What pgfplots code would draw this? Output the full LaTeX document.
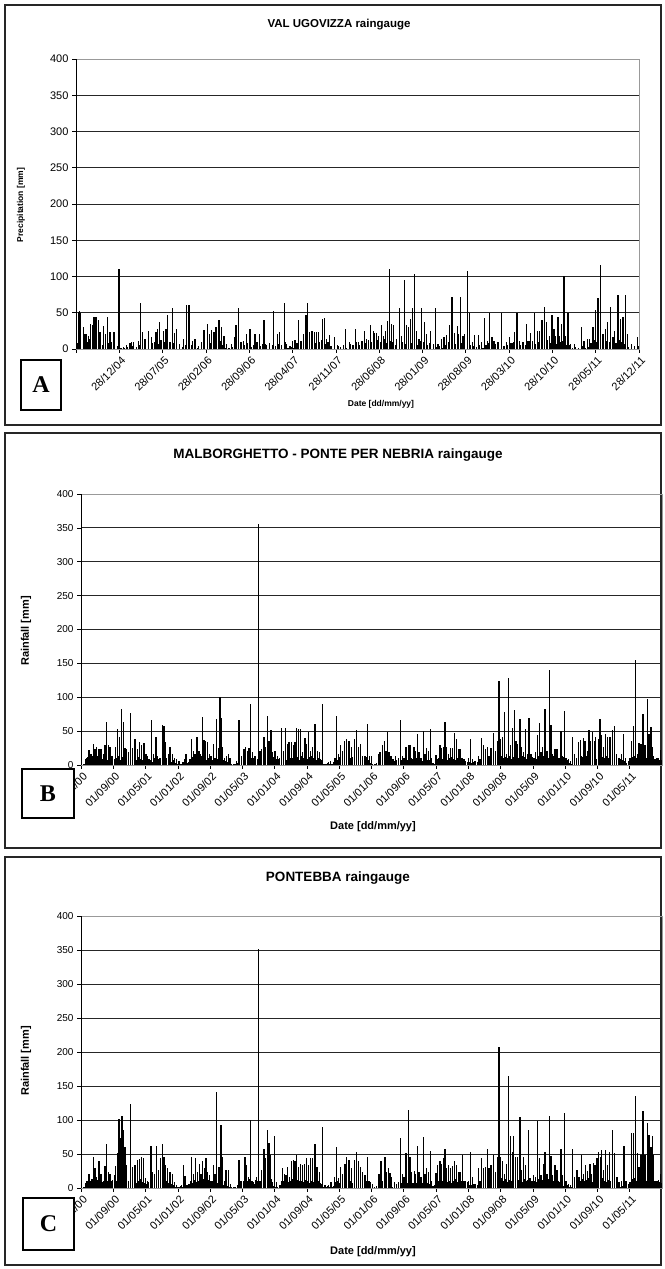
\documentclass[border=0pt]{standalone}
\usepackage{fontspec}
\setmainfont{Liberation Sans}
\newfontfamily\letterfont{Liberation Serif}
\usepackage{pgfplots}
\pgfplotsset{compat=1.18}
\usepackage{pgfplotstable}

\tikzset{rain/.style={ycomb, black, line width=1.25pt, mark=none},
         rainfill/.style={ycomb, black, line width=1.5pt, mark=none}}
\pgfplotsset{
 raincommon/.style={
  scale only axis,
  ymin=0, ymax=400, ytick={0,50,...,400},
  ymajorgrids,
  grid style={black!85, line width=0.75pt},
  axis line style={draw=black!40, line width=0.7pt},
  tick pos=left, tick align=outside, major tick length=4pt,
  tick style={black, line width=0.6pt},
  /pgf/number format/assume math mode=true,
  xticklabel style={rotate=45, anchor=east, inner sep=1pt, yshift=-7pt},
  clip=true,
 },
}

\begin{document}
\begin{tikzpicture}[x=1pt,y=1pt]
\path[use as bounding box] (0,0) rectangle (664,1269);
% panel frames
\draw[line width=1.1pt, black!85] (5,844) rectangle (661,1264);
\draw[line width=1.1pt, black!85] (5,421) rectangle (661,836);
\draw[line width=1.1pt, black!85] (5,4) rectangle (661,412);

% ---------------- Panel A ----------------
\begin{axis}[raincommon,
  at={(76pt,920pt)}, anchor=south west, width=563pt, height=290pt,
  xmin=0, xmax=91, xtick={0,7,...,91},
  xticklabels={{},28/12/04,28/07/05,28/02/06,28/09/06,28/04/07,28/11/07,28/06/08,28/01/09,28/08/09,28/03/10,28/10/10,28/05/11,28/12/11},
  yticklabel style={font=\fontsize{11}{13}\selectfont},
  xticklabel style={font=\fontsize{11}{13}\selectfont},
]
\addplot[rainfill] table[header=false, row sep=\\, x expr=\coordindex*0.5+0.25, y index=0] {8\\12\\6\\10\\14\\9\\7\\11\\5\\13\\8\\10\\6\\4\\2\\1\\3\\2\\4\\3\\6\\9\\5\\12\\8\\10\\7\\13\\9\\11\\6\\8\\4\\7\\3\\6\\2\\5\\3\\2\\9\\7\\12\\8\\10\\6\\11\\5\\2\\1\\3\\7\\4\\9\\5\\8\\3\\6\\9\\4\\7\\5\\8\\6\\4\\7\\5\\9\\2\\3\\2\\8\\11\\7\\12\\9\\13\\8\\10\\12\\7\\9\\4\\2\\5\\3\\6\\2\\7\\5\\9\\6\\11\\8\\13\\10\\7\\12\\9\\14\\8\\11\\10\\6\\12\\9\\7\\13\\8\\10\\6\\11\\9\\5\\8\\7\\3\\4\\2\\5\\9\\12\\7\\10\\8\\11\\9\\6\\4\\3\\5\\2\\6\\8\\4\\7\\9\\5\\3\\6\\8\\10\\7\\5\\9\\6\\11\\8\\7\\10\\6\\9\\12\\8\\10\\7\\9\\11\\6\\5\\2\\3\\1\\4\\2\\3\\8\\12\\9\\14\\7\\11\\10\\13\\8\\12\\9\\7\\3\\2\\4\\5\\};
\addplot[rain] coordinates {(0.0,16) (0.38,51) (0.54,52) (0.75,50) (1.18,30) (1.45,21) (1.72,20) (1.99,18) (2.37,35) (2.69,33) (2.91,44) (3.23,44) (3.61,40) (3.88,23) (4.41,32) (4.74,20) (5.12,44) (5.49,23) (6.14,23) (6.95,111) (7.65,3) (8.18,5) (8.72,8) (8.99,10) (9.26,9) (10.07,11) (10.45,64) (10.77,23) (11.15,14) (11.68,25) (12.22,16) (12.92,23) (13.14,27) (13.46,37) (14.11,25) (14.54,28) (14.81,47) (15.19,9) (15.62,57) (15.89,22) (16.26,28) (17.34,14) (17.88,60) (18.25,60) (18.79,11) (19.22,14) (19.76,4) (20.68,26) (21.22,35) (21.54,21) (21.92,26) (22.29,23) (22.62,30) (23.10,40) (23.53,30) (23.91,18) (24.34,7) (25.15,7) (25.58,16) (25.85,33) (26.22,57) (26.60,10) (27.03,11) (27.57,20) (28.11,27) (28.92,20) (29.72,21) (30.37,40) (30.69,7) (31.88,52) (32.53,20) (32.85,23) (33.76,64) (34.03,7) (34.57,4) (35.00,11) (35.38,13) (35.97,40) (36.46,11) (36.83,20) (37.16,47) (37.42,64) (37.80,23) (38.13,25) (38.50,23) (38.88,23) (39.20,24) (39.79,42) (40.12,43) (40.49,14) (40.92,19) (41.84,16) (42.38,4) (43.51,27) (44.26,10) (45.23,28) (45.72,10) (46.15,7) (46.58,25) (46.95,14) (47.33,9) (47.65,33) (48.03,25) (48.30,22) (48.57,22) (48.95,18) (49.38,33) (49.65,18) (50.02,25) (50.35,38) (50.72,111) (51.0,35) (51.37,33) (51.8,14) (52.34,57) (52.61,18) (53.15,95) (53.42,33) (53.69,30) (54.12,42) (54.39,57) (54.76,104) (55.03,25) (55.46,14) (55.84,56) (56.38,37) (56.65,21) (57.35,25) (58.16,57) (58.53,7) (59.07,14) (59.5,16) (59.93,19) (60.42,33) (60.79,72) (61.23,22) (61.66,32) (61.87,21) (62.2,72) (62.57,18) (62.84,21) (63.27,107) (63.65,49) (64.03,9) (64.46,19) (65.1,19) (65.53,9) (66.07,43) (66.5,11) (66.88,49) (67.26,16) (67.58,11) (68.23,7) (68.76,49) (69.2,4) (69.57,9) (70.11,16) (70.49,8) (70.92,23) (71.3,49) (71.73,11) (72.16,9) (72.8,35) (73.07,11) (73.5,22) (73.77,11) (74.15,49) (74.58,25) (74.96,25) (75.33,40) (75.76,58) (76.03,37) (76.57,18) (76.95,47) (77.27,28) (77.54,18) (77.92,44) (78.19,18) (78.46,35) (78.89,101) (79.16,18) (79.53,50) (79.97,7) (80.61,7) (81.69,30) (82.12,11) (82.66,14) (83.03,14) (83.57,30) (83.95,54) (84.38,70) (84.76,116) (85.19,21) (85.57,28) (85.89,37) (86.37,58) (86.8,16) (87.07,25) (87.61,75) (87.99,42) (88.42,44) (88.8,74) (89.12,21) (89.77,7) (90.3,4) (90.74,17) (91.0,4)};
\draw[black, line width=0.9pt] (rel axis cs:0,0) -- (rel axis cs:0,1);
\draw[black, line width=0.9pt] (rel axis cs:0,0) -- (rel axis cs:1,0);
\end{axis}

% ---------------- Panel B ----------------
\begin{axis}[raincommon,
  at={(81pt,504pt)}, anchor=south west, width=581pt, height=271pt,
  xmin=0, xmax=144, xtick={0,8,...,136},
  xticklabels={01/01/00,01/09/00,01/05/01,01/01/02,01/09/02,01/05/03,01/01/04,01/09/04,01/05/05,01/01/06,01/09/06,01/05/07,01/01/08,01/09/08,01/05/09,01/01/10,01/09/10,01/05/11},
  yticklabel style={font=\fontsize{10}{12}\selectfont},
  xticklabel style={font=\fontsize{11}{13}\selectfont},
]
\addplot[rainfill] table[header=false, row sep=\\, x expr=\coordindex*0.5+0.25, y index=0] {0\\1\\9\\12\\7\\14\\10\\8\\13\\11\\9\\15\\12\\8\\10\\14\\9\\11\\13\\7\\12\\10\\8\\11\\9\\13\\10\\7\\12\\9\\8\\11\\6\\5\\8\\4\\10\\7\\9\\6\\11\\8\\10\\6\\5\\7\\3\\2\\1\\2\\4\\1\\3\\5\\9\\12\\8\\11\\10\\13\\9\\12\\7\\10\\14\\8\\11\\9\\12\\10\\8\\6\\4\\3\\2\\1\\2\\3\\10\\13\\9\\12\\8\\14\\11\\10\\13\\9\\12\\15\\10\\8\\11\\13\\9\\12\\10\\14\\11\\9\\13\\8\\12\\10\\11\\14\\9\\12\\8\\13\\10\\11\\9\\12\\14\\10\\8\\11\\9\\7\\2\\1\\3\\1\\2\\4\\10\\8\\12\\9\\11\\13\\8\\10\\12\\9\\14\\10\\8\\11\\9\\12\\7\\3\\2\\1\\3\\7\\9\\6\\10\\8\\7\\5\\9\\6\\8\\10\\7\\9\\11\\8\\6\\10\\9\\7\\11\\8\\10\\6\\9\\7\\8\\5\\3\\2\\8\\10\\7\\9\\11\\8\\10\\12\\9\\7\\10\\8\\11\\9\\6\\5\\4\\3\\5\\2\\4\\6\\10\\12\\9\\13\\11\\14\\10\\12\\15\\9\\13\\11\\12\\10\\14\\9\\12\\13\\10\\11\\14\\12\\9\\13\\10\\12\\11\\9\\14\\10\\12\\13\\9\\11\\10\\12\\14\\9\\11\\10\\8\\12\\9\\7\\3\\2\\9\\11\\10\\13\\12\\9\\14\\11\\10\\12\\13\\9\\11\\14\\12\\10\\13\\11\\9\\12\\10\\8\\11\\9\\7\\6\\3\\2\\4\\12\\14\\10\\13\\11\\15\\12\\10\\13\\11\\12\\9\\10\\8\\7\\};
\addplot[rain] coordinates {(1.4,10) (1.98,22) (2.48,16) (3.06,31) (3.47,24) (3.88,26) (4.46,24) (4.96,24) (5.53,16) (5.95,29) (6.36,63) (6.77,29) (7.19,27) (7.6,14) (8.26,9) (8.59,26) (9.09,53) (9.5,41) (10.08,82) (10.49,63) (10.91,25) (11.32,24) (11.73,19) (12.31,77) (12.72,25) (13.39,39) (13.96,24) (14.46,34) (15.04,29) (15.62,32) (16.11,16) (16.53,14) (16.86,9) (17.52,66) (18.01,16) (18.59,42) (19.01,14) (19.58,11) (20.16,59) (20.58,57) (20.99,34) (21.65,16) (22.06,26) (22.64,16) (23.14,11) (23.72,9) (24.3,6) (25.12,5) (25.62,9) (26.03,16) (27.02,9) (27.44,38) (27.85,21) (28.26,16) (28.76,42) (29.25,21) (29.67,16) (30.08,71) (30.49,37) (30.9,36) (31.4,34) (31.82,16) (32.39,11) (32.81,31) (33.22,11) (33.64,68) (34.05,25) (34.46,101) (34.71,69) (35.12,26) (35.54,11) (36.11,14) (36.53,16) (36.94,11) (38.01,1) (38.59,6) (39.17,66) (39.83,11) (40.41,24) (40.82,26) (41.24,21) (41.65,25) (42.07,90) (42.56,19) (42.97,14) (43.97,355) (44.38,21) (44.79,24) (45.37,41) (45.78,26) (46.2,73) (46.61,36) (47.11,52) (47.52,19) (48.1,20) (48.51,9) (49.09,9) (49.75,55) (50.16,21) (50.74,55) (51.15,31) (51.57,34) (52.23,34) (52.64,29) (53.06,34) (53.47,55) (53.88,53) (54.38,53) (54.96,19) (55.54,40) (55.95,31) (56.36,49) (56.94,21) (57.35,26) (58.02,61) (58.59,21) (59.09,19) (59.92,90) (60.5,2) (61.32,4) (61.9,6) (62.81,11) (63.39,72) (63.8,16) (64.38,29) (64.88,21) (65.29,36) (65.87,39) (66.44,36) (67.1,26) (67.77,39) (68.35,51) (68.76,26) (69.26,31) (69.75,14) (70.41,14) (71.1,61) (71.5,14) (72.03,14) (72.86,1) (73.69,16) (74.1,19) (74.68,30) (75.17,36) (75.59,21) (76.0,49) (76.33,19) (76.83,14) (77.4,9) (77.98,14) (78.64,11) (79.22,66) (79.64,14) (80.05,11) (80.55,26) (81.12,29) (81.54,30) (81.95,11) (82.53,26) (82.94,21) (83.35,46) (83.77,19) (84.26,11) (84.84,50) (85.26,16) (85.67,25) (86.08,21) (86.58,53) (86.91,11) (87.98,15) (88.4,9) (88.97,30) (89.39,25) (89.8,26) (90.21,64) (90.63,26) (91.04,16) (91.54,25) (92.03,25) (92.53,47) (93.02,39) (93.52,24) (93.93,24) (94.51,11) (95.01,9) (96.0,11) (96.49,38) (96.99,9) (97.65,6) (98.48,14) (98.89,9) (99.31,40) (99.8,30) (100.3,24) (100.71,26) (101.12,14) (101.62,25) (102.28,47) (102.78,21) (103.27,36) (103.6,124) (104.02,39) (104.43,41) (104.93,78) (105.42,16) (106.0,128) (106.41,29) (106.91,55) (107.41,81) (107.82,36) (108.23,31) (108.81,68) (109.22,26) (109.72,19) (110.21,53) (110.63,16) (111.04,69) (111.54,16) (112.12,11) (112.7,19) (113.19,45) (113.6,62) (114.02,19) (114.43,26) (115.01,82) (115.5,21) (116.08,140) (116.5,59) (116.91,16) (117.49,24) (117.98,24) (118.48,11) (118.98,50) (119.39,14) (119.8,80) (120.22,11) (120.79,9) (121.29,6) (121.79,41) (122.28,16) (122.78,11) (123.27,34) (123.77,37) (124.1,14) (124.51,40) (124.92,36) (125.5,21) (125.92,52) (126.25,36) (126.74,49) (127.24,36) (127.57,41) (128.23,39) (128.64,68) (129.06,44) (129.55,26) (130.05,46) (130.55,41) (131.12,41) (131.7,51) (132.2,58) (132.78,16) (133.35,11) (134.02,16) (134.51,46) (135.01,11) (135.67,6) (136.08,11) (136.5,35) (136.91,57) (137.49,155) (137.9,16) (138.31,32) (138.81,31) (139.31,76) (139.8,29) (140.38,98) (140.79,46) (141.29,56) (141.62,26) (141.95,14) (142.45,6) (143.11,11) (143.6,22)};
\draw[black, line width=0.9pt] (rel axis cs:0,0) -- (rel axis cs:0,1);
\draw[black, line width=0.9pt] (rel axis cs:0,0) -- (rel axis cs:1,0);
\end{axis}

% ---------------- Panel C ----------------
\begin{axis}[raincommon,
  at={(81pt,81pt)}, anchor=south west, width=581pt, height=272pt,
  xmin=0, xmax=144, xtick={0,8,...,136},
  xticklabels={01/01/00,01/09/00,01/05/01,01/01/02,01/09/02,01/05/03,01/01/04,01/09/04,01/05/05,01/01/06,01/09/06,01/05/07,01/01/08,01/09/08,01/05/09,01/01/10,01/09/10,01/05/11},
  yticklabel style={font=\fontsize{10}{12}\selectfont},
  xticklabel style={font=\fontsize{11}{13}\selectfont},
]
\addplot[rainfill] table[header=false, row sep=\\, x expr=\coordindex*0.5+0.25, y index=0] {0\\1\\8\\11\\9\\13\\10\\7\\12\\14\\9\\11\\13\\10\\15\\12\\9\\11\\14\\10\\8\\12\\13\\9\\11\\10\\12\\8\\10\\13\\9\\7\\6\\9\\7\\11\\8\\10\\12\\9\\11\\7\\10\\8\\6\\4\\2\\1\\2\\3\\1\\2\\4\\6\\10\\8\\12\\9\\11\\10\\13\\9\\8\\12\\10\\11\\9\\7\\10\\8\\5\\6\\3\\2\\1\\1\\2\\4\\9\\11\\8\\12\\10\\13\\11\\9\\12\\10\\8\\11\\9\\12\\10\\8\\13\\3\\2\\2\\4\\11\\10\\12\\9\\10\\13\\11\\9\\12\\10\\11\\9\\12\\10\\8\\11\\9\\12\\10\\8\\6\\2\\1\\3\\1\\2\\3\\9\\11\\8\\12\\10\\9\\13\\10\\8\\11\\12\\9\\10\\13\\8\\11\\9\\2\\1\\1\\3\\8\\10\\7\\9\\6\\11\\8\\2\\3\\1\\9\\7\\10\\12\\8\\9\\11\\7\\10\\8\\12\\9\\7\\10\\8\\6\\5\\3\\4\\9\\11\\8\\10\\12\\9\\11\\8\\10\\13\\9\\8\\11\\10\\7\\9\\5\\4\\6\\3\\5\\7\\11\\13\\10\\12\\14\\11\\9\\13\\12\\10\\14\\11\\13\\9\\12\\10\\13\\11\\12\\10\\9\\13\\11\\12\\14\\10\\11\\9\\13\\10\\12\\11\\9\\13\\10\\12\\11\\8\\10\\9\\7\\3\\2\\4\\2\\1\\10\\12\\9\\11\\13\\10\\12\\14\\11\\9\\13\\10\\12\\11\\14\\10\\9\\12\\11\\8\\6\\4\\3\\2\\3\\5\\2\\3\\1\\13\\15\\11\\14\\12\\16\\13\\11\\14\\12\\13\\10\\11\\9\\8\\};
\addplot[rain] coordinates {(0.58,1) (1.4,11) (1.98,21) (2.48,11) (3.06,46) (3.47,29) (3.88,16) (4.46,39) (4.96,21) (5.53,11) (5.95,32) (6.36,65) (6.77,24) (7.19,21) (7.6,11) (8.26,19) (8.59,32) (9.09,51) (9.42,101) (9.83,73) (10.16,106) (10.49,86) (10.91,61) (11.32,34) (11.73,11) (12.31,124) (12.72,31) (13.39,34) (13.96,41) (14.46,42) (15.04,45) (15.45,44) (16.03,14) (16.53,11) (17.35,62) (17.77,24) (18.18,21) (18.68,62) (19.17,26) (19.67,44) (20.16,65) (20.58,46) (20.99,34) (21.49,29) (22.06,24) (22.64,21) (23.14,9) (23.72,4) (24.96,4) (25.37,34) (25.78,17) (26.61,6) (27.44,46) (27.93,21) (28.43,44) (28.93,24) (29.34,36) (29.75,21) (30.16,39) (30.58,29) (30.99,44) (31.4,24) (31.82,19) (32.39,11) (32.81,34) (33.22,21) (33.64,141) (34.21,31) (34.71,92) (35.12,46) (35.54,11) (35.95,26) (36.53,26) (37.1,6) (38.18,1) (39.17,41) (39.67,11) (40.24,11) (40.66,46) (41.07,34) (41.49,16) (42.07,100) (42.56,11) (43.14,6) (43.55,16) (43.97,352) (44.38,11) (44.79,26) (45.37,58) (45.78,44) (46.2,86) (46.61,66) (47.02,49) (47.44,9) (48.01,76) (48.51,9) (49.34,4) (49.91,29) (50.41,21) (50.82,19) (51.24,31) (51.65,16) (52.23,39) (52.64,41) (53.06,39) (53.47,49) (53.88,31) (54.46,35) (54.96,34) (55.37,35) (55.95,44) (56.36,34) (56.94,44) (57.35,44) (58.02,65) (58.51,31) (59.09,24) (59.92,90) (60.5,4) (61.32,4) (61.98,9) (62.81,16) (63.39,60) (63.8,14) (64.38,31) (64.88,21) (65.45,35) (65.87,46) (66.44,41) (67.1,29) (67.77,41) (68.35,53) (68.76,39) (69.26,31) (69.75,24) (70.41,19) (70.99,46) (71.4,11) (71.62,9) (72.2,6) (73.27,1) (73.85,21) (74.35,39) (74.76,11) (75.34,45) (75.75,24) (76.17,29) (76.58,22) (77.0,16) (77.65,9) (78.23,6) (78.64,4) (79.22,73) (79.64,21) (80.05,16) (80.55,52) (81.12,114) (81.54,46) (81.95,24) (82.61,25) (82.94,21) (83.35,62) (83.77,24) (84.26,16) (84.84,75) (85.26,21) (85.67,29) (86.08,24) (86.58,55) (86.91,11) (87.98,22) (88.4,34) (88.97,39) (89.39,35) (89.8,44) (90.21,58) (90.63,29) (91.04,34) (91.54,29) (92.03,32) (92.53,40) (93.02,34) (93.52,24) (93.93,24) (94.59,49) (95.17,11) (96.0,11) (96.49,53) (96.99,16) (97.65,6) (98.48,29) (98.89,11) (99.31,44) (99.8,29) (100.3,31) (100.71,57) (101.12,29) (101.62,34) (102.28,49) (102.78,24) (103.19,46) (103.6,207) (104.02,46) (104.43,40) (104.93,21) (105.42,36) (106.0,165) (106.41,76) (106.91,53) (107.24,77) (107.74,46) (108.23,46) (108.81,104) (109.22,26) (109.72,46) (110.21,34) (110.96,85) (111.54,11) (112.12,19) (112.7,16) (113.19,98) (113.6,44) (114.02,19) (114.6,35) (115.01,53) (115.5,21) (116.16,106) (116.5,47) (116.91,19) (117.49,34) (117.98,26) (118.48,9) (118.98,58) (119.39,19) (119.8,110) (120.22,11) (120.79,6) (121.29,4) (121.87,57) (122.28,16) (122.94,26) (123.44,16) (124.1,49) (124.6,21) (125.09,34) (125.59,25) (126.17,36) (126.58,21) (126.99,37) (127.4,34) (127.9,44) (128.31,53) (128.73,46) (129.06,56) (129.55,26) (130.05,56) (130.55,34) (131.04,53) (131.7,86) (132.2,51) (132.86,16) (133.35,9) (134.02,11) (134.59,62) (135.09,11) (135.67,6) (136.08,9) (136.5,81) (136.91,81) (137.49,135) (137.9,51) (138.31,31) (138.81,49) (139.31,113) (139.8,49) (140.38,96) (140.79,78) (141.29,61) (141.62,76) (141.95,49) (142.45,11) (143.11,12) (143.6,20)};
\draw[black, line width=0.9pt] (rel axis cs:0,0) -- (rel axis cs:0,1);
\draw[black, line width=0.9pt] (rel axis cs:0,0) -- (rel axis cs:1,0);
\end{axis}

% titles and labels
\node[font=\bfseries\fontsize{11.5}{14}\selectfont] at (339,1244) {VAL UGOVIZZA raingauge};
\node[font=\bfseries\fontsize{8.5}{10}\selectfont, rotate=90] at (21,1064) {Precipitation [mm]};
\node[font=\bfseries\fontsize{8.5}{10}\selectfont] at (381,865) {Date [dd/mm/yy]};

\node[font=\bfseries\fontsize{13.5}{16}\selectfont] at (338,814) {MALBORGHETTO - PONTE PER NEBRIA raingauge};
\node[font=\bfseries\fontsize{11}{13}\selectfont, rotate=90] at (26,638) {Rainfall [mm]};
\node[font=\bfseries\fontsize{11}{13}\selectfont] at (373,442) {Date [dd/mm/yy]};

\node[font=\bfseries\fontsize{13.5}{16}\selectfont] at (338,391) {PONTEBBA raingauge};
\node[font=\bfseries\fontsize{11}{13}\selectfont, rotate=90] at (26,208) {Rainfall [mm]};
\node[font=\bfseries\fontsize{11}{13}\selectfont] at (373,17) {Date [dd/mm/yy]};

% letter boxes
\draw[line width=1.1pt, fill=white] (21,859) rectangle (61,909);
\node[font=\letterfont\bfseries\fontsize{24}{24}\selectfont] at (41,884) {A};
\draw[line width=1.1pt, fill=white] (22,451) rectangle (74,500);
\node[font=\letterfont\bfseries\fontsize{24}{24}\selectfont] at (48,475.5) {B};
\draw[line width=1.1pt, fill=white] (23,19) rectangle (74,71);
\node[font=\letterfont\bfseries\fontsize{24}{24}\selectfont] at (48.5,45) {C};
\end{tikzpicture}
\end{document}
